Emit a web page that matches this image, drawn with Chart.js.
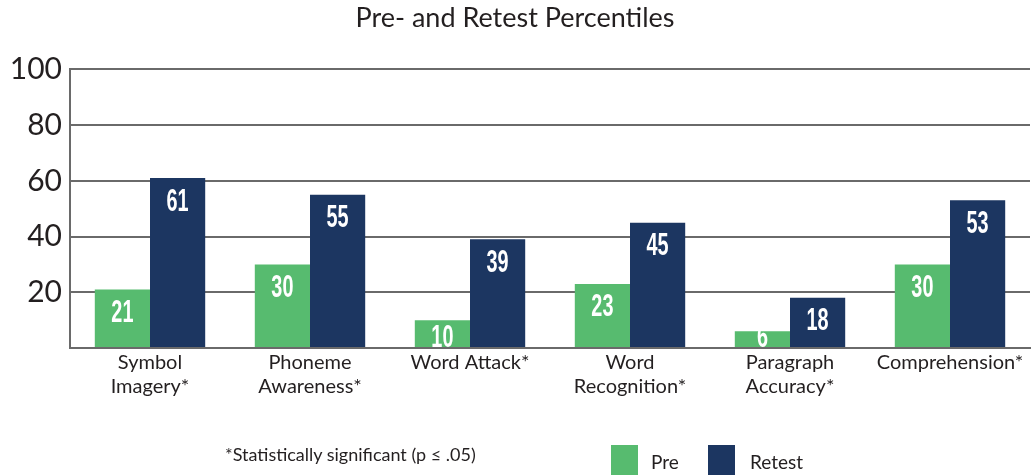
<!DOCTYPE html>
<html>
<head>
<meta charset="utf-8">
<script src="https://cdn.jsdelivr.net/npm/chart.js"></script>
<style>
	body { margin: 0; background: #fff; }
	#wrap { position: relative; width: 1036px; height: 475px; overflow: hidden; font-family: Lato, "Open Sans", sans-serif; color: #231f20; }
	#note { position: absolute; left: 225px; top: 443px; font-size: 18px; }
	.key { position: absolute; top: 445px; width: 27px; height: 30px; }
	.key-text { position: absolute; top: 450px; font-size: 19px; }
</style>
</head>
<body>
<div id="wrap">
	<canvas id="chart" width="1036" height="475"></canvas>
	<div id="note">*Statistically significant (p ≤ .05)</div>
	<div class="key" style="left:611px;background:#57bb6f"></div>
	<div class="key-text" style="left:651px">Pre</div>
	<div class="key" style="left:708px;background:#1c3661"></div>
	<div class="key-text" style="left:750px">Retest</div>
</div>
<script>
// chart data
const categories = [
	['Symbol', 'Imagery*'],
	['Phoneme', 'Awareness*'],
	'Word Attack*',
	['Word', 'Recognition*'],
	['Paragraph', 'Accuracy*'],
	'Comprehension*'
];
const preValues = [21, 30, 10, 23, 6, 30];
const retestValues = [61, 55, 39, 45, 18, 53];
const yTicks = [20, 40, 60, 80, 100];

const greenColor = '#57bb6f';
const navyColor = '#1c3661';

// white numbers inside the top of each bar (squeezed to look condensed)
const barLabels = {
	id: 'barLabels',
	afterDatasetsDraw(chart) {
		const ctx = chart.ctx;
		const base = chart.scales.y.getPixelForValue(0);
		ctx.save();
		ctx.fillStyle = '#ffffff';
		ctx.font = 'bold 31px "Liberation Sans", Arial, sans-serif';
		ctx.textAlign = 'center';
		ctx.textBaseline = 'middle';
		chart.data.datasets.forEach(function (ds, i) {
			chart.getDatasetMeta(i).data.forEach(function (bar, j) {
				const y = Math.min(bar.y + 23, base - 11);
				ctx.save();
				ctx.translate(bar.x, y);
				ctx.scale(0.64, 1);
				ctx.fillText(ds.data[j], 0, 1);
				ctx.restore();
			});
		});
		ctx.restore();
	}
};

const chart = new Chart(document.getElementById('chart'), {
	type: 'bar',
	data: {
		labels: categories,
		datasets: [{
			label: 'Pre',
			data: preValues,
			backgroundColor: greenColor,
			categoryPercentage: 0.69,
			barPercentage: 1
		}, {
			label: 'Retest',
			data: retestValues,
			backgroundColor: navyColor,
			categoryPercentage: 0.69,
			barPercentage: 1
		}]
	},
	options: {
		responsive: false,
		animation: false,
		layout: { padding: { top: 0, right: 6, bottom: 73, left: 0 } },
		plugins: {
			legend: { display: false },
			tooltip: { enabled: false },
			title: {
				display: true,
				text: 'Pre- and Retest Percentiles',
				color: '#231f20',
				font: { family: 'Lato', size: 27, weight: 'normal' },
				padding: { top: 2, bottom: 35 }
			}
		},
		scales: {
			x: {
				grid: { display: false, drawTicks: false },
				border: { color: '#6a6a6a', width: 2 },
				ticks: {
					color: '#231f20',
					font: { family: 'Lato', size: 20 },
					padding: 3,
					maxRotation: 0,
					autoSkip: false
				}
			},
			y: {
				min: 0,
				max: 100,
				afterFit: function (scale) { scale.width = 70; },
				afterBuildTicks: function (scale) {
					scale.ticks = [0].concat(yTicks).map(function (v) { return { value: v }; });
				},
				grid: { color: '#6a6a6a', lineWidth: 2, drawTicks: false },
				border: { color: '#6a6a6a', width: 2 },
				ticks: {
					color: '#231f20',
					font: { family: 'Lato', size: 30 },
					padding: 8,
					callback: function (v) { return v === 0 ? '' : v; }
				}
			}
		}
	},
	plugins: [barLabels]
});
</script>
</body>
</html>
